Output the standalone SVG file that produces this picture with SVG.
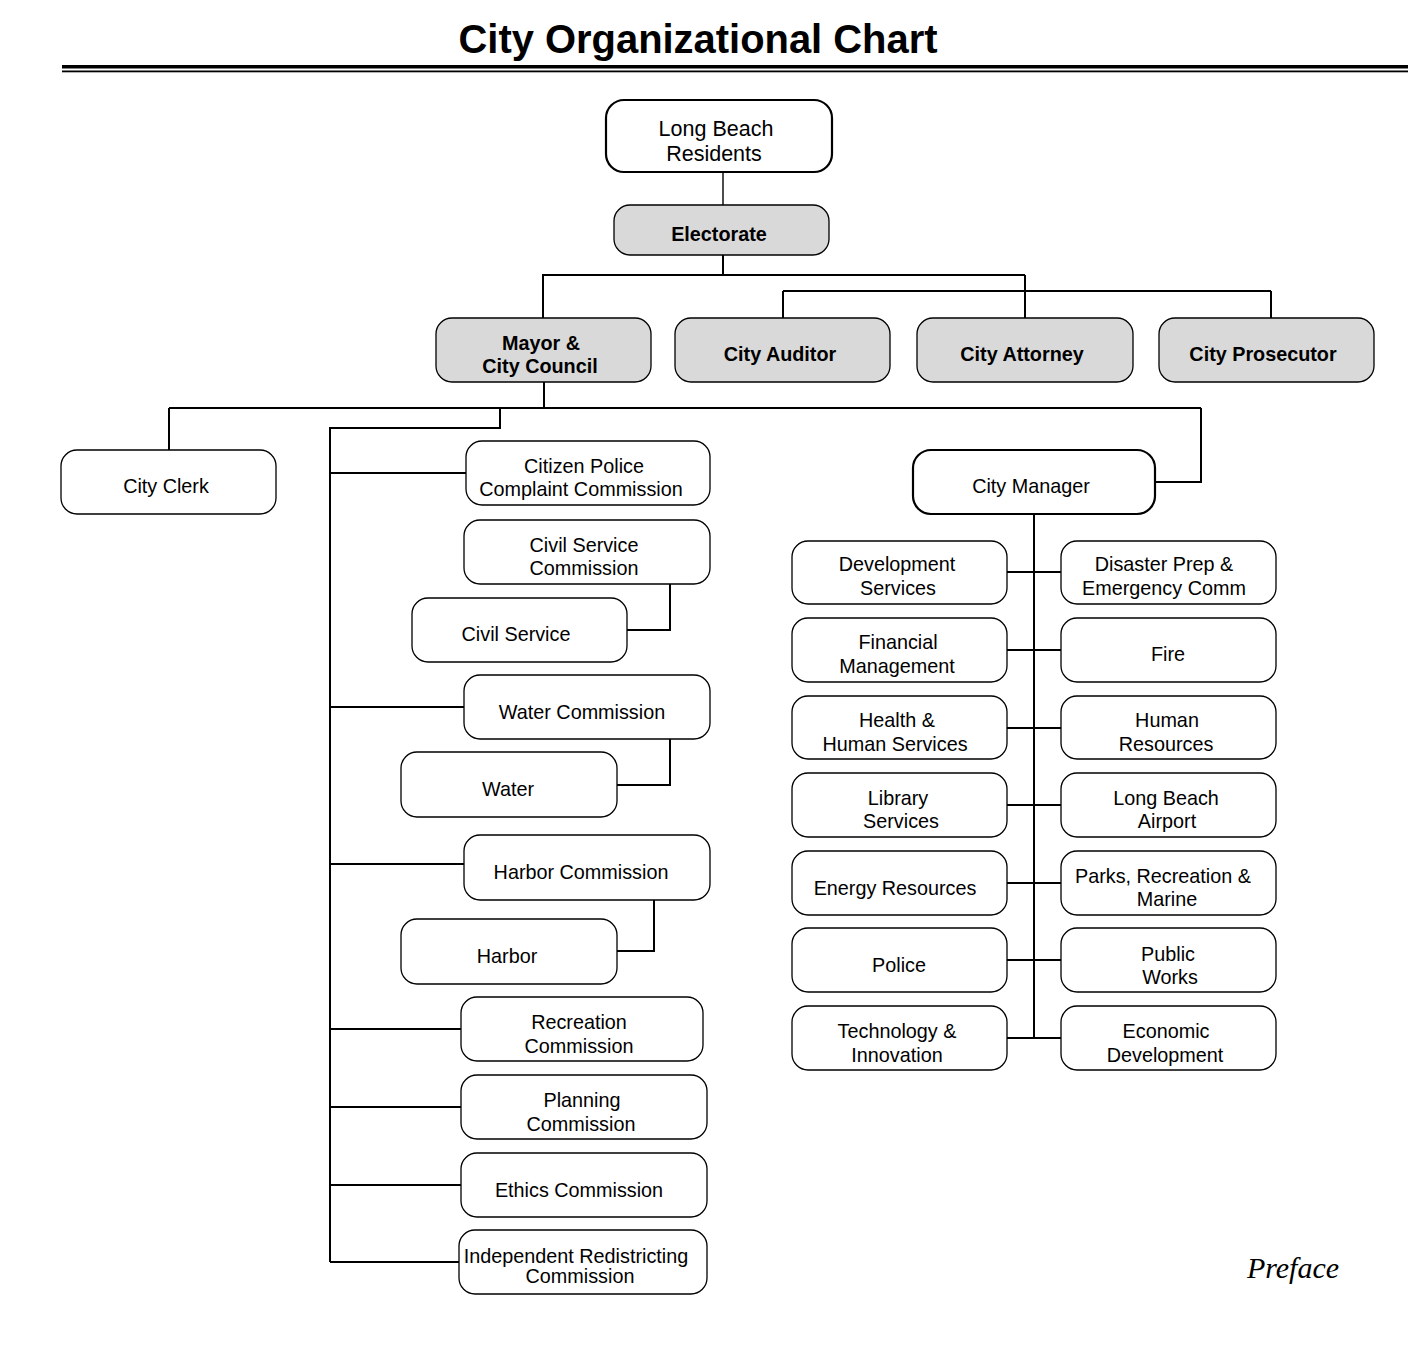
<svg xmlns="http://www.w3.org/2000/svg" width="1420" height="1362" viewBox="0 0 1420 1362">
<style>
.b{fill:#fff;stroke:#000;stroke-width:1.3}
.bt{fill:#fff;stroke:#000;stroke-width:2.2}
.g{fill:#d9d9d9;stroke:#000;stroke-width:1.3}
.t{font-family:"Liberation Sans",Arial,sans-serif;font-size:19.8px;text-anchor:middle;fill:#000}
.tb{font-family:"Liberation Sans",Arial,sans-serif;font-size:19.8px;font-weight:bold;text-anchor:middle;fill:#000}
.c{fill:none;stroke:#000;stroke-width:2}
</style>
<rect width="1420" height="1362" fill="#fff"/>
<text x="698" y="53" font-family="Liberation Sans,Arial,sans-serif" font-size="40" font-weight="bold" text-anchor="middle" textLength="479" lengthAdjust="spacingAndGlyphs">City Organizational Chart</text>
<rect x="62" y="65" width="1346" height="3.5" fill="#000"/>
<rect x="62" y="70.5" width="1346" height="1.8" fill="#000"/>

<g id="connectors">
<path class="c" style="stroke-width:1.4" d="M723 172V205"/>
<path class="c" d="M723 255V275M542 275H1025M543 275V318M1025 275V318M783 291H1271M783 291V318M1271 291V318"/>
<path class="c" d="M544 382V408M169 408H1201M169 408V450M500 408V428H330V1262"/>
<path class="c" d="M1201 408V482H1155"/>
<path class="c" d="M330 473H466M330 707H464M330 864H464M330 1029H461M330 1107H461M330 1185H461M330 1262H459"/>
<path class="c" d="M670 584V630H627M670 739V785H617M654 900V951H617"/>
<path class="c" d="M1034 514V1038M1007 572H1061M1007 650H1061M1007 728H1061M1007 805H1061M1007 883H1061M1007 960H1061M1007 1038H1061"/>
</g>

<g id="residents"><rect class="bt" x="606" y="100" width="226" height="72" rx="18"/><text class="t" style="font-size:21.5px" x="716" y="136">Long Beach</text><text class="t" style="font-size:21.5px" x="714" y="161">Residents</text></g>
<g id="electorate"><rect class="g" x="614" y="205" width="215" height="50" rx="16"/><text class="tb" x="719" y="241">Electorate</text></g>
<g id="mayor"><rect class="g" x="436" y="318" width="215" height="64" rx="16"/><text class="tb" x="541" y="350">Mayor &amp;</text><text class="tb" x="540" y="373">City Council</text></g>
<g id="auditor"><rect class="g" x="675" y="318" width="215" height="64" rx="16"/><text class="tb" x="780" y="361">City Auditor</text></g>
<g id="attorney"><rect class="g" x="917" y="318" width="216" height="64" rx="16"/><text class="tb" x="1022" y="361">City Attorney</text></g>
<g id="prosecutor"><rect class="g" x="1159" y="318" width="215" height="64" rx="16"/><text class="tb" x="1263" y="361">City Prosecutor</text></g>

<g id="clerk"><rect class="b" x="61" y="450" width="215" height="64" rx="16"/><text class="t" x="166" y="493">City Clerk</text></g>
<g id="manager"><rect class="bt" x="913" y="450" width="242" height="64" rx="18"/><text class="t" x="1031" y="493">City Manager</text></g>

<g id="citizen-police"><rect class="b" x="466" y="441" width="244" height="64" rx="16"/><text class="t" x="584" y="473">Citizen Police</text><text class="t" x="581" y="496">Complaint Commission</text></g>
<g id="civil-service-commission"><rect class="b" x="464" y="520" width="246" height="64" rx="16"/><text class="t" x="584" y="552">Civil Service</text><text class="t" x="584" y="575">Commission</text></g>
<g id="civil-service"><rect class="b" x="412" y="598" width="215" height="64" rx="16"/><text class="t" x="516" y="641">Civil Service</text></g>
<g id="water-commission"><rect class="b" x="464" y="675" width="246" height="64" rx="16"/><text class="t" x="582" y="719">Water Commission</text></g>
<g id="water"><rect class="b" x="401" y="752" width="216" height="65" rx="16"/><text class="t" x="508" y="796">Water</text></g>
<g id="harbor-commission"><rect class="b" x="464" y="835" width="246" height="65" rx="16"/><text class="t" x="581" y="879">Harbor Commission</text></g>
<g id="harbor"><rect class="b" x="401" y="919" width="216" height="65" rx="16"/><text class="t" x="507" y="963">Harbor</text></g>
<g id="recreation-commission"><rect class="b" x="461" y="997" width="242" height="64" rx="16"/><text class="t" x="579" y="1029">Recreation</text><text class="t" x="579" y="1053">Commission</text></g>
<g id="planning-commission"><rect class="b" x="461" y="1075" width="246" height="64" rx="16"/><text class="t" x="582" y="1107">Planning</text><text class="t" x="581" y="1131">Commission</text></g>
<g id="ethics-commission"><rect class="b" x="461" y="1153" width="246" height="64" rx="16"/><text class="t" x="579" y="1197">Ethics Commission</text></g>
<g id="redistricting-commission"><rect class="b" x="459" y="1230" width="248" height="64" rx="16"/><text class="t" x="576" y="1263">Independent Redistricting</text><text class="t" x="580" y="1283">Commission</text></g>

<g id="development-services"><rect class="b" x="792" y="541" width="215" height="63" rx="16"/><text class="t" x="897" y="571">Development</text><text class="t" x="898" y="595">Services</text></g>
<g id="disaster-prep"><rect class="b" x="1061" y="541" width="215" height="63" rx="16"/><text class="t" x="1164" y="571">Disaster Prep &amp;</text><text class="t" x="1164" y="595">Emergency Comm</text></g>
<g id="financial-management"><rect class="b" x="792" y="618" width="215" height="64" rx="16"/><text class="t" x="898" y="649">Financial</text><text class="t" x="897" y="673">Management</text></g>
<g id="fire"><rect class="b" x="1061" y="618" width="215" height="64" rx="16"/><text class="t" x="1168" y="661">Fire</text></g>
<g id="health"><rect class="b" x="792" y="696" width="215" height="63" rx="16"/><text class="t" x="897" y="727">Health &amp;</text><text class="t" x="895" y="751">Human Services</text></g>
<g id="human-resources"><rect class="b" x="1061" y="696" width="215" height="63" rx="16"/><text class="t" x="1167" y="727">Human</text><text class="t" x="1166" y="751">Resources</text></g>
<g id="library"><rect class="b" x="792" y="773" width="215" height="64" rx="16"/><text class="t" x="898" y="805">Library</text><text class="t" x="901" y="828">Services</text></g>
<g id="airport"><rect class="b" x="1061" y="773" width="215" height="64" rx="16"/><text class="t" x="1166" y="805">Long Beach</text><text class="t" x="1167" y="828">Airport</text></g>
<g id="energy"><rect class="b" x="792" y="851" width="215" height="64" rx="16"/><text class="t" x="895" y="895">Energy Resources</text></g>
<g id="parks"><rect class="b" x="1061" y="851" width="215" height="64" rx="16"/><text class="t" x="1163" y="883">Parks, Recreation &amp;</text><text class="t" x="1167" y="906">Marine</text></g>
<g id="police"><rect class="b" x="792" y="928" width="215" height="64" rx="16"/><text class="t" x="899" y="972">Police</text></g>
<g id="public-works"><rect class="b" x="1061" y="928" width="215" height="64" rx="16"/><text class="t" x="1168" y="961">Public</text><text class="t" x="1170" y="984">Works</text></g>
<g id="technology"><rect class="b" x="792" y="1006" width="215" height="64" rx="16"/><text class="t" x="897" y="1038">Technology &amp;</text><text class="t" x="897" y="1062">Innovation</text></g>
<g id="economic-development"><rect class="b" x="1061" y="1006" width="215" height="64" rx="16"/><text class="t" x="1166" y="1038">Economic</text><text class="t" x="1165" y="1062">Development</text></g>

<text x="1293" y="1278" font-family="Liberation Serif,Times New Roman,serif" font-size="30" font-style="italic" text-anchor="middle">Preface</text>
</svg>
